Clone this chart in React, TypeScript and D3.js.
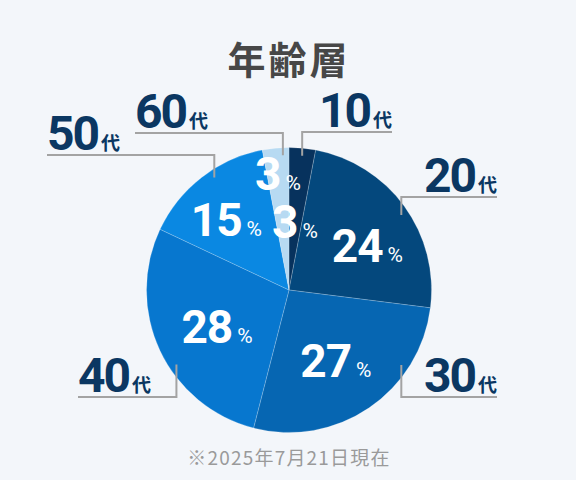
import React from "react";
import * as d3 from "d3";

// 年代別の構成比（%）
const ageGroups: string[] = ["10", "20", "30", "40", "50", "60"];
const shares: number[] = [3, 24, 27, 28, 15, 3];
const sliceColors: string[] = ["#07325d", "#04487d", "#0666b2", "#0777cf", "#0a88e2", "#b7daf2"];

const title = "年齢層";
const note = "※2025年7月21日現在";

// レイアウト（ラベル・引き出し線）
const W = 576;
const H = 480;
const cx = 289;
const cy = 290;
const R = 142.5;

// % ラベルの半径と角度補正（度）
const pctRadius = [68, 90, 85, 81, 94, 117];
const pctAngleShift = [-0.4, 6.6, 0.7, -2, -4, 0];

// 引き出し線: 円上の点の角度、横線のy、横線の外側の端x
const leaderAngle = [5.6, 56.3, 123.7, 236.5, -33.6, -2.6];
const leaderLineY = [132, 197, 397, 397, 155, 133];
const leaderOuterX = [392, 497, 497, 78, 47, 135];

const labelColor = "#0b3762";
const lineColor = "#a3a3a3";
const numFont = "Roboto, 'Noto Sans', sans-serif";
const cjkFont = "'Noto Sans CJK JP', 'Noto Sans', sans-serif";

const App: React.FC = () => {
  const pie = d3
    .pie<number>()
    .sort(null)
    .value((d) => d)
    .startAngle(0)
    .endAngle(2 * Math.PI);
  const arcs = pie(shares);

  const arc = d3.arc<d3.PieArcDatum<number>>().innerRadius(0).outerRadius(R);

  const rad = (deg: number) => (deg * Math.PI) / 180;

  return (
    <div style={{ position: "fixed", left: 0, top: 0 }}>
      <svg width={W} height={H} style={{ display: "block" }}>
        <rect x={0} y={0} width={W} height={H} fill="#f3f6fa" />

        <text
          x={cx}
          y={74}
          textAnchor="middle"
          fontFamily={cjkFont}
          fontWeight={700}
          fontSize={38}
          fill="#474747"
          letterSpacing={3}
        >
          {title}
        </text>

        <g transform={`translate(${cx},${cy})`}>
          {arcs.map((a, i) => (
            <path
              key={ageGroups[i]}
              d={arc(a) ?? ""}
              fill={sliceColors[i]}
              stroke="rgba(255,255,255,0.25)"
              strokeWidth={0.8}
            />
          ))}

          {arcs.map((a, i) => {
            const mid = (a.startAngle + a.endAngle) / 2 + rad(pctAngleShift[i]);
            const x = Math.sin(mid) * pctRadius[i];
            const y = -Math.cos(mid) * pctRadius[i];
            return (
              <text
                key={"p" + ageGroups[i]}
                x={x}
                y={y + 16}
                textAnchor="middle"
                fill="#ffffff"
                fontFamily={numFont}
              >
                <tspan fontSize={46} fontWeight={700} letterSpacing={-1}>
                  {shares[i]}
                </tspan>
                <tspan fontSize={21} fontWeight={400} dx={5}>
                  %
                </tspan>
              </text>
            );
          })}
        </g>

        {ageGroups.map((g, i) => {
          const ang = rad(leaderAngle[i]);
          const px = cx + Math.sin(ang) * 135;
          const py = cy - Math.cos(ang) * 135;
          const ly = leaderLineY[i];
          const ox = leaderOuterX[i];
          const right = ox > px;
          return (
            <g key={"l" + g}>
              <polyline
                points={`${px},${py} ${px},${ly} ${ox},${ly}`}
                fill="none"
                stroke={lineColor}
                strokeWidth={2}
              />
              <text
                x={ox}
                y={ly - 5}
                textAnchor={right ? "end" : "start"}
                fill={labelColor}
              >
                <tspan fontFamily={numFont} fontWeight={700} fontSize={48} letterSpacing={-2}>
                  {g}
                </tspan>
                <tspan fontFamily={cjkFont} fontWeight={700} fontSize={19} dx={3}>
                  代
                </tspan>
              </text>
            </g>
          );
        })}

        <text
          x={cx}
          y={465}
          textAnchor="middle"
          fontFamily={cjkFont}
          fontSize={19}
          fill="#9a9a9a"
          letterSpacing={1.2}
        >
          {note}
        </text>
      </svg>
    </div>
  );
};

export default App;
